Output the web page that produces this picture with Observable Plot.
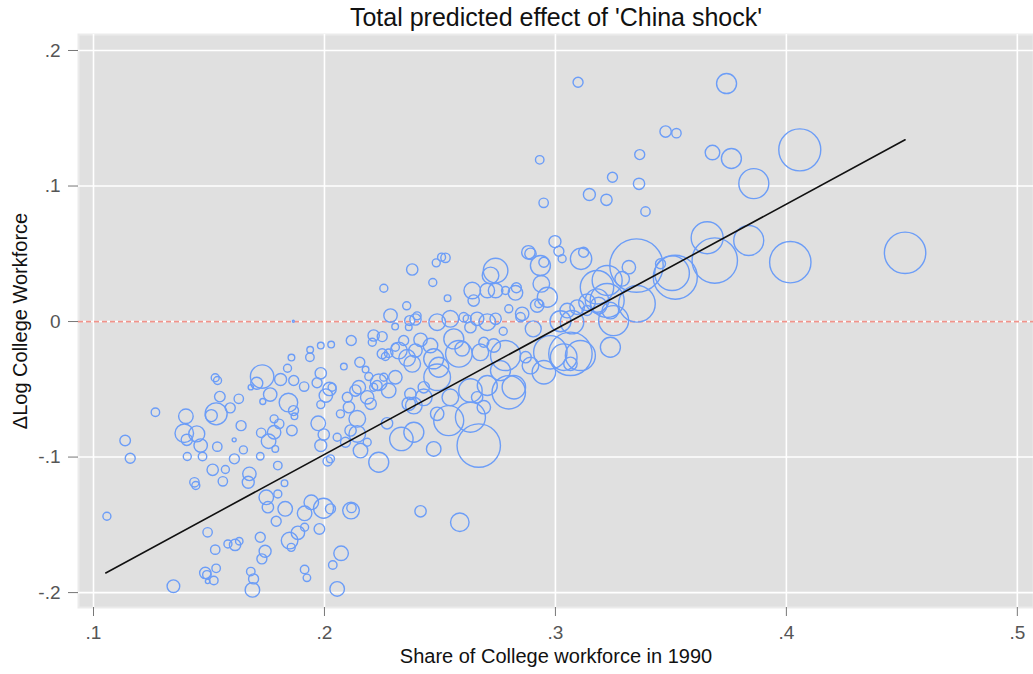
<!DOCTYPE html>
<html><head><meta charset="utf-8">
<script src="https://cdn.jsdelivr.net/npm/d3@7"></script>
<script src="https://cdn.jsdelivr.net/npm/@observablehq/plot@0.6"></script>
<style>body{margin:0;background:#fff;} svg{display:block}</style>
</head><body><div id="chart"></div>
<script>
// Share of college workforce in 1990
const share = [
.1058,.1137,.1159,.1268,.1400,.1393,.1447,.1404,.1464,.1406,.1472,.1527,.1537,.1547,.1531,.1510,.1592,.1629,.1639,.1536,
.1609,.1649,.1610,.1516,.1571,.1560,.1437,.1443,.1675,.1670,.1730,.1707,.1681,.1765,.1733,.1810,.1840,.1857,.1867,.1844,
.1866,.1870,.1912,.1938,.1937,.1984,.2029,.1984,.1968,.2022,.2006,.1984,.1973,.1997,.1782,.1804,.1782,.1758,.1726,.1859,
.1787,.1722,.1798,.1984,.2014,.1827,.1798,.1748,.1755,.1830,.1791,.1943,.1996,.1914,.1978,.1914,.1885,.1849,.1856,.1494,
.1527,.1582,.1613,.1631,.1722,.1743,.1729,.1484,.1491,.1531,.1521,.1494,.1346,.1681,.1693,.1688,.1914,.1924,.2036,.2055,
.2072,.1865,
.2524,.2507,.2484,.2380,.2469,.2257,.2533,.2356,.2286,.2306,.2369,.2394,.2401,.2365,.2488,.2545,.2603,.2618,.2661,.2705,
.2741,.2632,.2774,.2741,.2741,.2719,.2705,.2640,.2646,.2784,.2827,.2831,.2856,.2849,.2892,.2935,.2950,.2939,.2965,.2921,
.2904,.3029,.3022,.3015,.2998,.2213,.2250,.2207,.2116,.2153,.2084,.2178,.2192,.2250,.2264,.2278,.2307,.2322,.2358,.2343,
.2416,.2394,.2380,.2459,.2473,.2495,.2488,.2560,.2582,.2596,.2675,.2690,.2733,.2784,.2762,.2820,.2798,.2705,.2632,.2661,
.2690,.2632,.2538,.2488,.2545,.2430,.2430,.2372,.2365,.2387,.2278,.2307,.2235,.2228,.2213,.2257,.2149,.2134,.2185,.2099,
.2200,.2106,.2069,.2033,.2142,.2113,.2142,.2055,.2091,.2185,.2156,.2026,.2271,.2333,.2387,.2473,.2235,.2668,.2892,.2950,
.2978,.3036,.2871,
.3065,.3108,.3065,.3072,.3252,.3224,.3353,.3180,.3187,.3238,.3137,.3094,.3051,.2928,.2798,
.3657,.3837,.3690,.4017,.3505,.3519,.3455,.3318,.3289,.3224,.3180,.3137,.3111,.3122,.3238,.3351,.2883,
.3098,.2932,.3477,.3524,.3365,.3247,.3362,.3147,.3221,.3390,.2949,.3741,.3680,.3762,.3859,.4058,.4514,
.2115,.2117,.2416,.2586,.2026
];
// Delta log college workforce
const dlog = [
-.1437,-.0878,-.1009,-.0669,-.0699,-.0824,-.0829,-.0873,-.0915,-.0996,-.0996,-.0415,-.0435,-.0554,-.0681,-.0694,-.0637,-.0570,-.0768,-.0923,
-.0873,-.0947,-.1013,-.1094,-.1092,-.1179,-.1186,-.1210,-.1124,-.1186,-.0406,-.0455,-.0485,-.0539,-.0590,-.0428,-.0345,-.0266,-.0435,-.0598,
-.0657,-.0699,-.0480,-.0209,-.0263,-.0177,-.0170,-.0382,-.0452,-.0497,-.0546,-.0613,-.0751,-.0834,-.0718,-.0755,-.0817,-.0883,-.0821,-.0804,
-.0940,-.0994,-.1063,-.0915,-.1031,-.1193,-.1272,-.1297,-.1370,-.1382,-.1474,-.1334,-.1378,-.1415,-.1530,-.1518,-.1559,-.1616,-.1666,-.1555,
-.1683,-.1641,-.1648,-.1621,-.1592,-.1695,-.1751,-.1855,-.1869,-.1821,-.1911,-.1917,-.1953,-.1845,-.1899,-.1980,-.1830,-.1891,-.1796,-.1973,
-.1710,.0002,
.0470,.0475,.0433,.0384,.0288,.0246,.0172,.0116,.0044,-.0037,.0007,.0015,.0042,-.0042,-.0005,.0020,.0032,.0020,.0020,-.0005,
.0020,-.0042,-.0072,.0229,.0376,.0340,.0229,.0229,.0155,.0229,.0212,.0249,.0057,.0032,.0500,.0413,.0438,.0278,.0179,.0118,
-.0054,.0463,.0002,.0519,.0590,-.0103,-.0111,-.0153,-.0140,-.0300,-.0332,-.0354,-.0406,-.0238,-.0258,-.0234,-.0190,-.0214,-.0268,-.0140,
-.0135,-.0214,-.0312,-.0177,-.0275,-.0337,-.0411,-.0128,-.0238,-.0201,-.0227,-.0153,-.0177,-.0251,-.0362,-.0485,-.0522,-.0472,-.0509,-.0559,
-.0632,-.0706,-.0731,-.0681,-.0559,-.0559,-.0485,-.0534,-.0607,-.0620,-.0509,-.0411,-.0448,-.0472,-.0485,-.0411,-.0485,-.0509,-.0559,-.0559,
-.0607,-.0632,-.0681,-.0485,-.0718,-.0804,-.0829,-.0854,-.0891,-.0891,-.0952,-.1013,-.0751,-.0866,-.0817,-.0940,-.1038,-.0915,-.0325,-.0374,
-.0227,-.0263,-.0263,
-.0238,-.0251,-.0312,-.0005,.0007,.0155,.0131,.0253,.0118,.0081,.0081,.0106,.0081,.0131,.0094,
.0618,.0598,.0450,.0438,.0357,.0327,.0426,.0401,.0315,.0303,.0155,.0142,.0463,.0511,-.0190,.0413,.0511,
.1766,.1193,.1402,.1390,.1232,.1065,.1016,.0937,.0898,.0812,.0876,.1756,.1247,.1203,.1018,.1267,.0507,
-.1395,-.1375,-.1400,-.1481,-.1382
];
// Population weight of each commuting zone
const pop = [
16,28,25,18,53,86,64,32,45,16,18,16,16,28,121,36,25,22,25,22,
4,16,25,32,16,22,22,16,45,36,137,36,7,45,9,36,16,11,25,86,
25,11,22,11,18,11,11,32,25,45,45,16,53,32,16,22,45,53,22,28,
11,14,18,36,22,11,16,53,32,53,25,53,100,53,28,16,45,69,16,22,
22,16,32,14,25,36,25,32,18,18,18,5,40,18,25,53,18,14,18,53,
53,1,
22,16,16,32,16,16,11,16,45,11,25,32,16,11,69,69,22,16,45,69,
32,32,16,53,151,69,53,69,32,16,53,25,45,22,32,100,25,69,100,45,
64,16,110,25,36,32,25,16,25,25,11,11,16,25,16,18,16,69,69,25,
45,45,69,53,100,100,177,100,177,53,69,25,45,225,100,137,279,100,137,32,
45,225,225,45,69,69,32,32,45,69,53,45,69,25,16,16,45,32,45,25,
32,32,16,16,69,32,69,16,25,16,53,16,32,137,100,53,100,471,69,137,
279,177,32,
471,225,45,137,225,289,335,279,69,69,25,53,53,16,16,
256,225,515,428,300,484,25,45,53,225,137,69,114,25,100,713,45,
25,18,32,22,25,25,32,36,32,22,22,100,53,100,225,441,428,
69,22,32,86,25
];
// Fitted line end points
const fitShare = [0.1053, 0.4514];
const fitDlog = [-0.1855, 0.1341];
const xTicks = [0.1, 0.2, 0.3, 0.4, 0.5];
const yTicks = [-0.2, -0.1, 0, 0.1, 0.2];
const title = "Total predicted effect of 'China shock'";
const xLabel = "Share of College workforce in 1990";
const yLabel = "ΔLog College Workforce";

const points = share.map((s, i) => ({share: s, dlog: dlog[i], pop: pop[i]}));
const fit = fitShare.map((s, i) => ({share: s, dlog: fitDlog[i]}));
const fmt = d => d === 0 ? "0" : (d < 0 ? "-" : "") + "." + Math.round(Math.abs(d) * 10);

const chart = Plot.plot({
  width: 1033, height: 674,
  marginLeft: 78, marginRight: 0, marginTop: 34, marginBottom: 67,
  style: {fontFamily: "'Liberation Sans', Arial, sans-serif", background: "#fff"},
  x: {domain: [0.0935, 0.507]},
  y: {domain: [-0.211, 0.2118]},
  r: {type: "sqrt", domain: [0, 900], range: [0, 30]},
  marks: [
    Plot.frame({fill: "#e0e0e0", stroke: "#ebebeb", strokeWidth: 2}),
    Plot.gridX(xTicks, {stroke: "#fff", strokeOpacity: 1, strokeWidth: 1.6}),
    Plot.gridY(yTicks, {stroke: "#fff", strokeOpacity: 1, strokeWidth: 1.6}),
    Plot.ruleY([0], {stroke: "#f0948b", strokeWidth: 1.8, strokeDasharray: "5,3"}),
    Plot.dot(points, {x: "share", y: "dlog", r: "pop", stroke: "#6c9df7", strokeWidth: 1.4, fill: "none"}),
    Plot.line(fit, {x: "share", y: "dlog", stroke: "#111", strokeWidth: 1.6}),
    Plot.axisX(xTicks, {tickSize: 9, tickPadding: 9, tickFormat: fmt, fontSize: 19, fill: "#555", stroke: "#777", label: null}),
    Plot.axisY(yTicks, {tickSize: 10, tickPadding: 8, tickFormat: fmt, fontSize: 19, fill: "#555", stroke: "#777", label: null}),
    Plot.text([title], {text: d => d, frameAnchor: "top", lineAnchor: "middle", dy: -17, fontSize: 25, fill: "#111"}),
    Plot.text([xLabel], {text: d => d, frameAnchor: "bottom", lineAnchor: "middle", dy: 49, fontSize: 20, fill: "#111"}),
    Plot.text([yLabel], {text: d => d, frameAnchor: "left", textAnchor: "middle", lineAnchor: "middle", dx: -58, rotate: -90, fontSize: 20, fill: "#111"})
  ]
});
document.getElementById("chart").append(chart);
</script>
</body></html>
